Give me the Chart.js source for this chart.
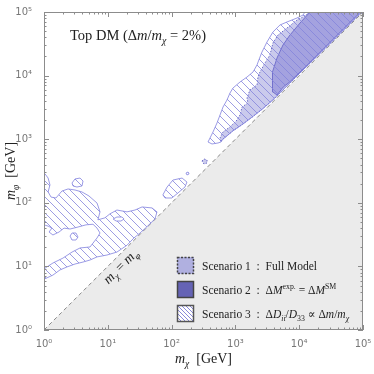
<!DOCTYPE html>
<html>
<head>
<meta charset="utf-8">
<script src="https://cdn.jsdelivr.net/npm/chart.js@4.4.0/dist/chart.umd.min.js"></script>
<style>
html, body { margin: 0; padding: 0; background: #fff; }
</style>
</head>
<body>
<canvas id="myChart" width="374" height="374"></canvas>
<script>
// axes (GeV) and tick labels
var axisMin = 1, axisMax = 100000;
var tickExps = [0, 1, 2, 3, 4, 5];
var tickLabels = ['10⁰', '10¹', '10²', '10³', '10⁴', '10⁵'];

// m_chi > m_phi region and the m_chi = m_phi line
var forbidX = [1, 100000, 100000, 1];
var forbidY = [1, 100000, 1, 1];
var diagX = [1, 100000];
var diagY = [1, 100000];

// Scenario 3, low mass band (m_chi, m_phi in GeV)
var s3LowX = [1.04, 1.16, 1.24, 1.16, 1.29, 1.54, 1.91, 2.38, 3.06, 3.94, 5.07, 6.78, 7.55, 7.0, 9.0, 10.8, 13.9, 20, 26.7, 34.4, 49.3, 59, 55, 41, 32, 25.7, 20, 13.9, 9.7, 6.78, 5.26, 4.08, 3.06, 2.29, 1.78, 1.38, 1.11, 1.0, 1.0, 1.04, 1.38, 1.98, 2.75, 3.67, 5.26, 6.78, 7.55, 6.78, 5.86, 4.55, 3.41, 2.56, 2.06, 1.72, 1.38, 1.2, 1.33, 1.16, 1.0, 1.0, 1.04];
var s3LowY = [284, 245, 191, 148, 123, 119, 153, 165, 159, 148, 128, 99, 72, 54, 58, 67, 77, 72, 77, 86, 83, 72, 56, 42, 33.5, 28, 21.5, 16.8, 15.1, 14.1, 12.6, 11.7, 10.9, 9.8, 8.8, 7.3, 6.6, 6.3, 8.8, 9.4, 11.3, 13.5, 16.8, 19.5, 20.2, 28, 33.5, 40, 46, 45, 41.6, 38.7, 40, 34.7, 31.2, 34.7, 40, 43, 45, 284, 284];
var s3IslandAX = [2.75, 3.06, 3.67, 4.09, 3.94, 3.29, 2.85, 2.75];
var s3IslandAY = [205, 237, 245, 220, 184, 177, 184, 205];
var s3IslandBX = [2.56, 2.75, 3.17, 3.41, 3.17, 2.75, 2.56];
var s3IslandBY = [30, 33.5, 33.5, 29, 26, 26, 30];
var s3HoleX = [12.1, 13.9, 16.7, 18, 16.1, 13.5, 12.1];
var s3HoleY = [55.6, 59.8, 59.8, 55.6, 51.7, 51.7, 55.6];
var s3BlobX = [73, 85, 105, 146, 174, 162, 126, 101, 79, 73];
var s3BlobY = [133, 177, 228, 245, 212, 177, 143, 119, 119, 133];
var s3DotX = [168, 181, 188, 174, 168];
var s3DotY = [294, 305, 284, 274, 294];

// Scenario 3, high mass region
var s3HighX = [12300, 11500, 9250, 6440, 5000, 3880, 3130, 2610, 2430, 2180, 1890, 1520, 1180, 917, 822, 738, 640, 574, 515, 446, 400, 372, 430, 533, 594, 617, 692, 912, 1320, 1900, 2690, 3890, 10000, 31600, 89100, 100000, 12300];
var s3HighY = [100000, 89700, 80500, 69700, 62500, 48500, 33800, 23500, 19600, 14700, 11400, 9500, 7930, 6380, 5320, 4130, 3210, 2400, 1800, 1300, 1045, 904, 841, 871, 904, 977, 1070, 1350, 1740, 2290, 3020, 4170, 10700, 33100, 93300, 100000, 100000];

// Scenario 1 (full model)
var s1X = [14800, 11500, 9250, 6440, 4660, 3880, 3480, 2910, 2430, 2260, 2180, 1690, 1520, 1570, 1270, 1180, 1060, 822, 640, 574, 594, 617, 692, 912, 1320, 1900, 2690, 3890, 10000, 31600, 89100, 100000, 14800];
var s1Y = [100000, 83800, 74800, 56000, 43500, 32600, 21100, 15800, 11400, 9500, 7110, 5940, 4450, 3710, 3210, 2400, 2000, 1560, 1300, 1045, 904, 977, 1070, 1350, 1740, 2290, 3020, 4170, 10700, 33100, 93300, 100000, 100000];
var s1DotX = [299, 322, 359, 359, 322, 299];
var s1DotY = [454, 489, 471, 423, 407, 454];

// Scenario 2 (dM exp = dM SM)
var s2X = [14800, 89700, 89100, 50100, 25100, 12600, 7080, 5620, 4490, 3880, 3750, 3880, 4490, 5570, 7180, 10300, 14800];
var s2Y = [100000, 100000, 97700, 55000, 27500, 13800, 7940, 6610, 4950, 5520, 7110, 11400, 18900, 30300, 43500, 67100, 100000];

var SERIF = '"Liberation Serif", "DejaVu Serif", serif';
var s3Line = '#8282de';
var s1Fill = 'rgba(150,150,218,0.5)';
var s2Fill = 'rgba(118,114,206,0.45)';

var canvas = document.getElementById('myChart');
var ctx = canvas.getContext('2d');

function toPts(xs, ys) {
    return xs.map(function (x, i) { return { x: x, y: ys[i] }; });
}

function hatch(size, color, width) {
    var c = document.createElement('canvas');
    c.width = size; c.height = size;
    var g = c.getContext('2d');
    g.strokeStyle = color;
    g.lineWidth = width;
    g.beginPath();
    for (var k = -1; k <= 1; k++) {
        g.moveTo(0, k * size);
        g.lineTo(size, size + k * size);
    }
    g.stroke();
    return ctx.createPattern(c, 'repeat');
}

var hatchFill = hatch(8, '#8484dc', 0.8);
var hatchSmall = hatch(4, '#6a6ad0', 0.8);

// draw text made of pieces: r = roman, i = italic, sub/subi/sup = small
function rich(c, segs, x, y, size, align) {
    function fontOf(s) {
        var small = s.indexOf('sub') === 0 || s.indexOf('sup') === 0;
        var it = s === 'i' || s === 'subi' || s === 'supi';
        return (it ? 'italic ' : '') + (small ? size * 0.68 : size) + 'px ' + SERIF;
    }
    var w = 0;
    segs.forEach(function (sg) { c.font = fontOf(sg[1]); w += c.measureText(sg[0]).width; });
    var cx = align === 'center' ? x - w / 2 : x;
    c.textAlign = 'left';
    c.textBaseline = 'alphabetic';
    segs.forEach(function (sg) {
        c.font = fontOf(sg[1]);
        var dy = sg[1].indexOf('sup') === 0 ? -size * 0.42 : (sg[1].indexOf('sub') === 0 ? size * 0.25 : 0);
        c.fillText(sg[0], cx, y + dy);
        cx += c.measureText(sg[0]).width;
    });
    return w;
}

var decor = {
    id: 'decor',
    afterDraw: function (chart) {
        var c = chart.ctx, a = chart.chartArea;
        var sx = chart.scales.x, sy = chart.scales.y;
        c.save();

        // frame and inward ticks on all sides
        c.strokeStyle = '#8c8c8c';
        c.lineWidth = 1;
        c.strokeRect(a.left + 0.5, a.top + 0.5, a.right - a.left - 1, a.bottom - a.top - 1);
        c.beginPath();
        sx.ticks.forEach(function (t) {
            var major = Math.abs(Math.log10(t.value) % 1) < 1e-9;
            var len = major ? 5 : 2.5;
            var px = Math.round(sx.getPixelForValue(t.value)) + 0.5;
            c.moveTo(px, a.bottom); c.lineTo(px, a.bottom - len);
            c.moveTo(px, a.top); c.lineTo(px, a.top + len);
        });
        sy.ticks.forEach(function (t) {
            var major = Math.abs(Math.log10(t.value) % 1) < 1e-9;
            var len = major ? 5 : 2.5;
            var py = Math.round(sy.getPixelForValue(t.value)) + 0.5;
            c.moveTo(a.left, py); c.lineTo(a.left + len, py);
            c.moveTo(a.right, py); c.lineTo(a.right - len, py);
        });
        c.stroke();

        c.fillStyle = '#222';
        // title inside the plot
        rich(c, [['Top DM (Δ', 'r'], ['m', 'i'], ['/', 'r'], ['m', 'i'], ['χ', 'subi'], [' = 2%)', 'r']],
            a.left + 26, a.top + 28, 14.5, 'left');

        // axis titles
        rich(c, [['m', 'i'], ['χ', 'subi'], ['  [GeV]', 'r']], (a.left + a.right) / 2, 363, 14, 'center');
        c.save();
        c.translate(15, (a.top + a.bottom) / 2);
        c.rotate(-Math.PI / 2);
        rich(c, [['m', 'i'], ['φ', 'subi'], ['  [GeV]', 'r']], 0, 0, 14, 'center');
        c.restore();

        // label on the diagonal
        var p0x = sx.getPixelForValue(1), p0y = sy.getPixelForValue(1);
        var p1x = sx.getPixelForValue(100000), p1y = sy.getPixelForValue(100000);
        var ang = Math.atan2(p1y - p0y, p1x - p0x);
        c.save();
        c.translate(sx.getPixelForValue(16), sy.getPixelForValue(10));
        c.rotate(ang);
        c.fillStyle = '#222';
        rich(c, [['m', 'i'], ['χ', 'subi'], [' = ', 'r'], ['m', 'i'], ['φ', 'subi']], 0, 4, 13.5, 'center');
        c.restore();

        // legend
        var lx = a.left + 133, sz = 17;
        var rows = [
            { top: 257, text: [['Scenario 1  :  Full Model', 'r']] },
            { top: 281, text: [['Scenario 2  :  Δ', 'r'], ['M', 'i'], ['exp.', 'sup'], [' = Δ', 'r'], ['M', 'i'], ['SM', 'sup']] },
            { top: 305, text: [['Scenario 3  :  Δ', 'r'], ['D', 'i'], ['ii', 'subi'], ['/', 'r'], ['D', 'i'], ['33', 'sub'], [' ∝ Δ', 'r'], ['m', 'i'], ['/', 'r'], ['m', 'i'], ['χ', 'subi']] }
        ];
        rows.forEach(function (r, i) {
            c.save();
            if (i === 0) {
                c.fillStyle = '#b0b0e0';
                c.fillRect(lx, r.top, sz, sz);
                c.setLineDash([2, 1.5]);
                c.strokeStyle = '#444';
            } else if (i === 1) {
                c.fillStyle = '#6563b5';
                c.fillRect(lx, r.top, sz, sz);
                c.strokeStyle = '#444';
            } else {
                c.fillStyle = '#fff';
                c.fillRect(lx, r.top, sz, sz);
                c.fillStyle = hatchSmall;
                c.fillRect(lx, r.top, sz, sz);
                c.strokeStyle = '#555';
            }
            c.lineWidth = 1.5;
            c.strokeRect(lx + 0.5, r.top + 0.5, sz - 1, sz - 1);
            c.restore();
            c.fillStyle = '#222';
            rich(c, r.text, lx + 25, r.top + 13, 11.5, 'left');
        });

        c.restore();
    }
};

function region(xs, ys, fill, line, width, order, dash) {
    return {
        data: toPts(xs, ys),
        fill: fill ? 'shape' : false,
        backgroundColor: fill || 'rgba(0,0,0,0)',
        borderColor: line,
        borderWidth: width,
        borderDash: dash || [],
        pointRadius: 0,
        tension: 0,
        order: order
    };
}

function logTicks(s) {
    var t = [];
    for (var e = 0; e < 5; e++) for (var m = 1; m < 10; m++) t.push({ value: m * Math.pow(10, e) });
    t.push({ value: axisMax });
    s.ticks = t;
}

function tickText(v) {
    var i = tickExps.indexOf(Math.round(Math.log10(v)));
    return (i >= 0 && Math.pow(10, tickExps[i]) === v) ? tickLabels[i] : '';
}

var myChart = new Chart(ctx, {
    type: 'line',
    data: {
        datasets: [
            region(forbidX, forbidY, '#ebebeb', 'rgba(0,0,0,0)', 0, 20),
            region(diagX, diagY, null, '#8a8a8a', 1, 19, [4, 3]),
            region(s1X, s1Y, s1Fill, '#6c6cc8', 1, 12, [1.5, 1.5]),
            region(s1DotX, s1DotY, s1Fill, '#6c6cc8', 1, 12, [1.5, 1.5]),
            region(s2X, s2Y, s2Fill, '#7270cc', 1, 11),
            region(s3HighX, s3HighY, hatchFill, s3Line, 0.8, 10),
            region(s3LowX, s3LowY, hatchFill, s3Line, 0.8, 10),
            region(s3IslandAX, s3IslandAY, hatchFill, s3Line, 0.8, 10),
            region(s3IslandBX, s3IslandBY, hatchFill, s3Line, 0.8, 10),
            region(s3BlobX, s3BlobY, hatchFill, s3Line, 0.8, 10),
            region(s3DotX, s3DotY, hatchFill, s3Line, 0.8, 10),
            region(s3HoleX, s3HoleY, '#ffffff', s3Line, 0.8, 9)
        ]
    },
    options: {
        responsive: false,
        animation: false,
        layout: { padding: { left: 0, right: 11, top: 12, bottom: 0 } },
        plugins: { legend: { display: false }, tooltip: { enabled: false } },
        scales: {
            x: {
                type: 'logarithmic',
                min: axisMin,
                max: axisMax,
                grid: { display: false },
                border: { display: false },
                afterFit: function (s) { s.height = 44; },
                afterBuildTicks: logTicks,
                ticks: {
                    autoSkip: false,
                    maxRotation: 0,
                    padding: 0,
                    color: '#777',
                    font: { family: '"DejaVu Sans", sans-serif', size: 10 },
                    callback: tickText
                }
            },
            y: {
                type: 'logarithmic',
                min: axisMin,
                max: axisMax,
                grid: { display: false },
                border: { display: false },
                afterFit: function (s) { s.width = 44; },
                afterBuildTicks: logTicks,
                ticks: {
                    autoSkip: false,
                    padding: 4,
                    color: '#777',
                    font: { family: '"DejaVu Sans", sans-serif', size: 10 },
                    callback: tickText
                }
            }
        }
    },
    plugins: [decor]
});
</script>
</body>
</html>
